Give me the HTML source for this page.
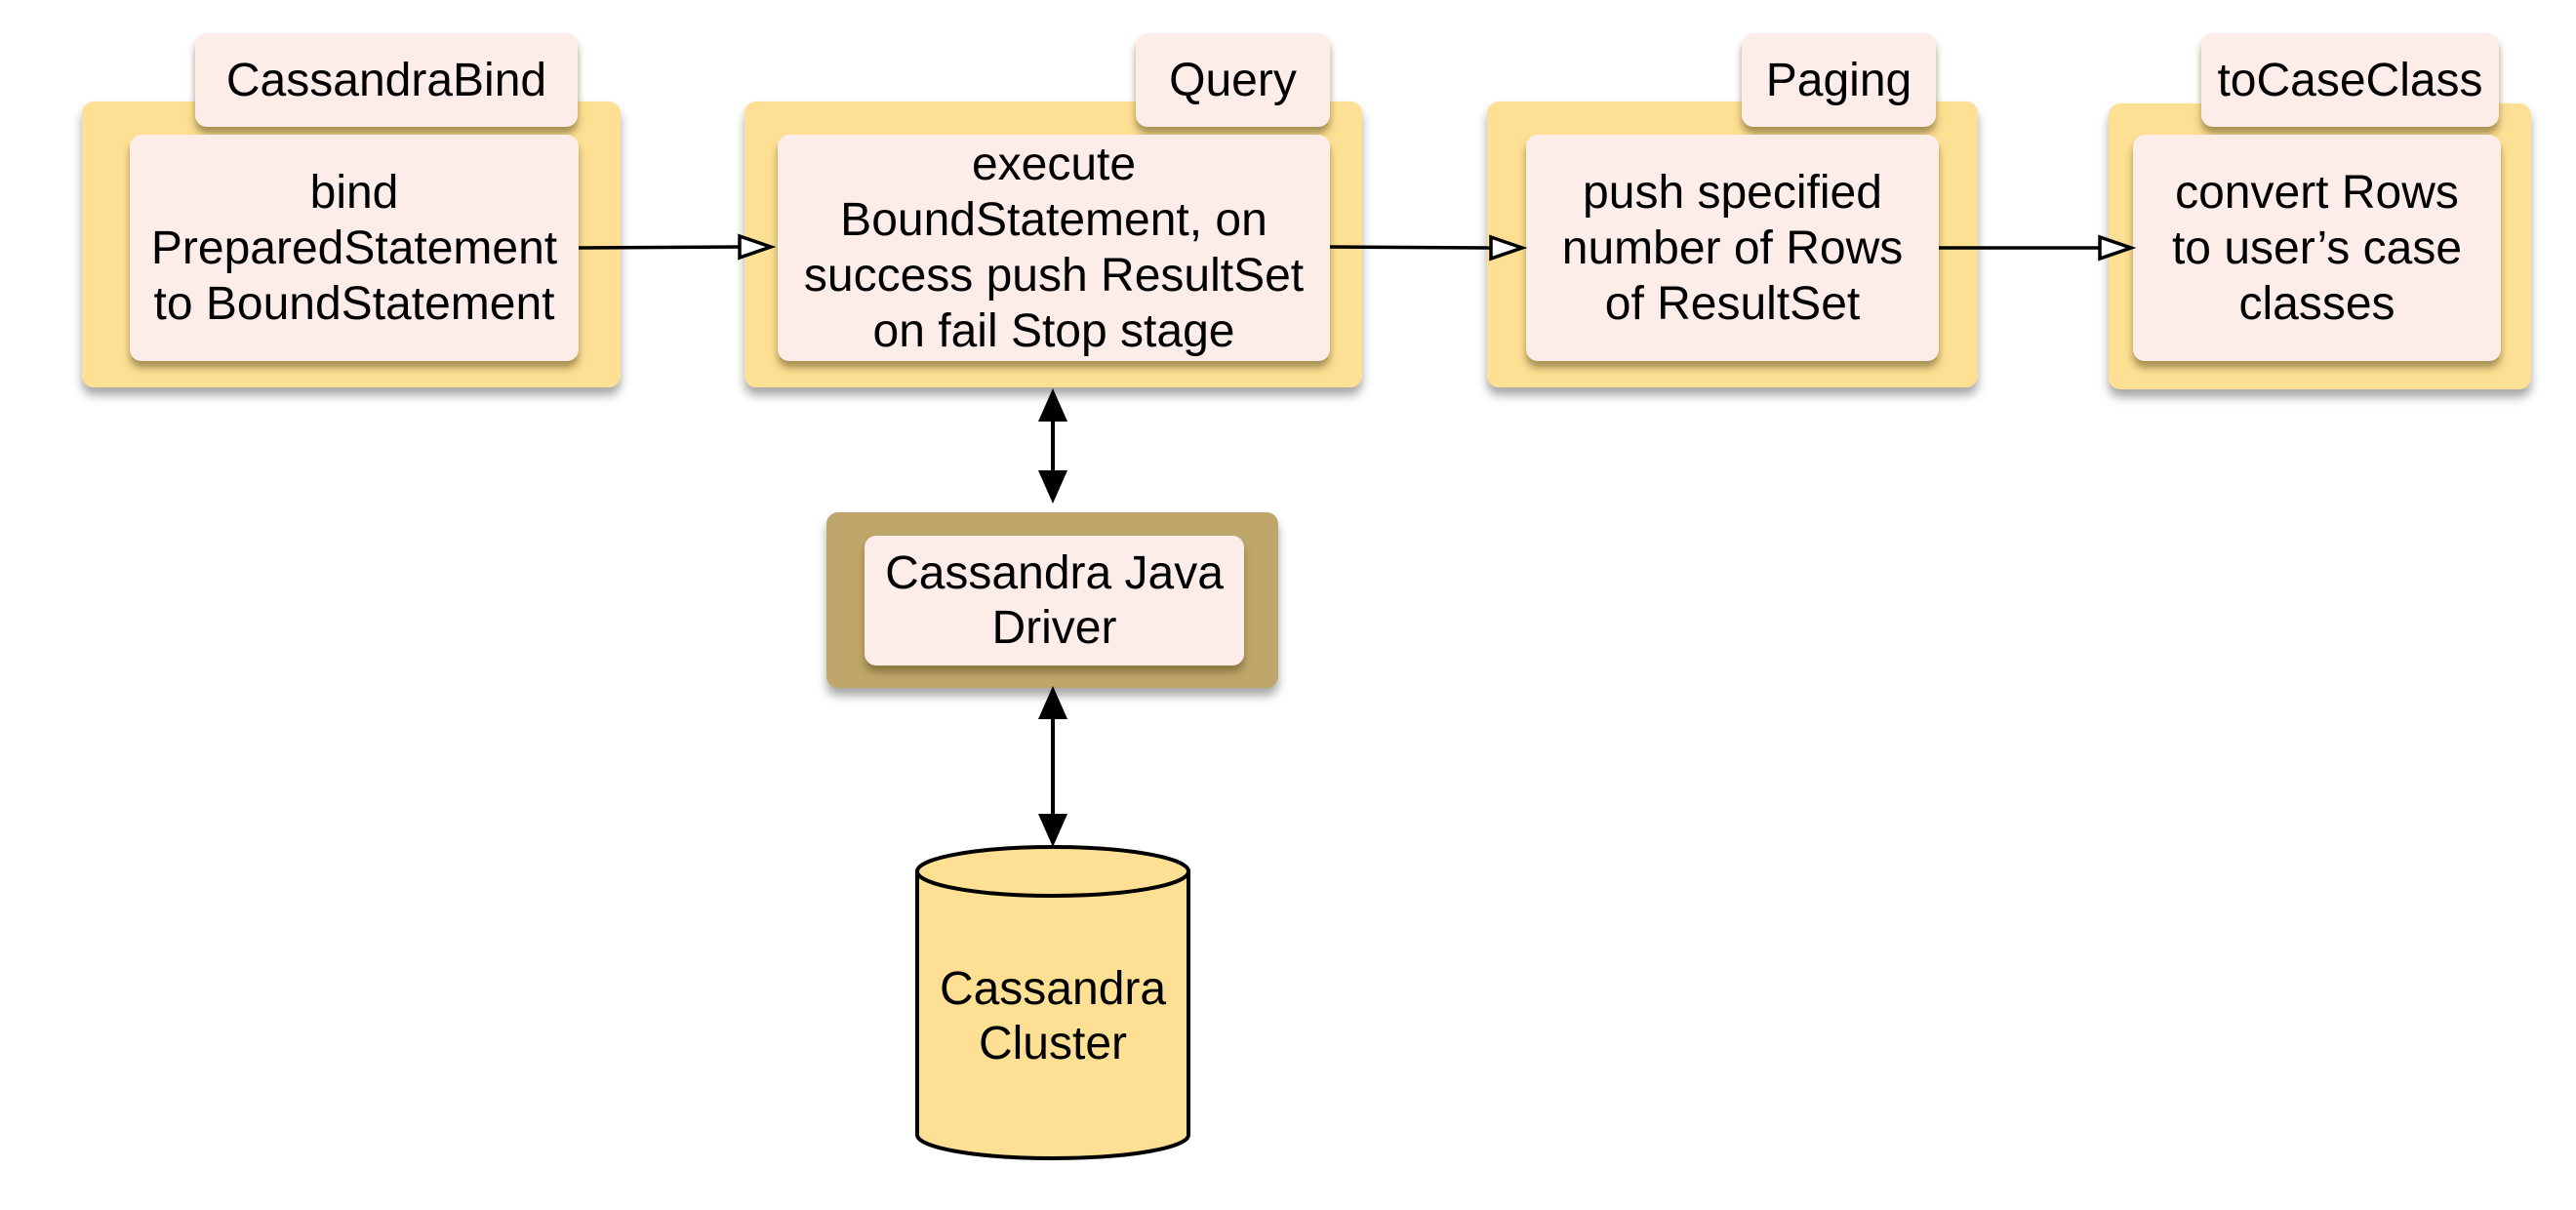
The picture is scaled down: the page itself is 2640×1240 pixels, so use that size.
<!DOCTYPE html>
<html><head><meta charset="utf-8"><style>
body{margin:0;width:2640px;height:1240px;background:#fff;position:relative;overflow:hidden;font-family:"Liberation Sans",sans-serif;}
.b{position:absolute;border-radius:12px;box-sizing:border-box;}
.o{background:#fde093;box-shadow:0 8px 10px rgba(0,0,0,.35);}
.i{background:#fdede8;box-shadow:0 7px 8px rgba(110,90,40,.6);display:flex;align-items:center;justify-content:center;text-align:center;font-size:48px;line-height:57px;color:#000;white-space:nowrap;}
</style></head><body>
<div class="b o" style="left:84px;top:104px;width:552px;height:293px"></div>
<div class="b i" style="left:200px;top:34px;width:392px;height:96px">CassandraBind</div>
<div class="b i" style="left:133px;top:138px;width:460px;height:232px">bind<br>PreparedStatement<br>to BoundStatement</div>

<div class="b o" style="left:763px;top:104px;width:633px;height:293px"></div>
<div class="b i" style="left:1164px;top:34px;width:199px;height:96px">Query</div>
<div class="b i" style="left:797px;top:138px;width:566px;height:232px">execute<br>BoundStatement, on<br>success push ResultSet<br>on fail Stop stage</div>

<div class="b o" style="left:1524px;top:104px;width:503px;height:293px"></div>
<div class="b i" style="left:1785px;top:34px;width:199px;height:96px">Paging</div>
<div class="b i" style="left:1564px;top:138px;width:423px;height:232px">push specified<br>number of Rows<br>of ResultSet</div>

<div class="b o" style="left:2161px;top:106px;width:433px;height:293px"></div>
<div class="b i" style="left:2256px;top:34px;width:305px;height:96px">toCaseClass</div>
<div class="b i" style="left:2186px;top:138px;width:377px;height:232px">convert Rows<br>to user’s case<br>classes</div>

<div class="b" style="left:847px;top:525px;width:463px;height:180px;background:#bfa76c;box-shadow:0 8px 10px rgba(0,0,0,.35)"></div>
<div class="b i" style="left:886px;top:549px;width:389px;height:133px;line-height:56px">Cassandra Java<br>Driver</div>

<svg style="position:absolute;left:0;top:0" width="2640" height="1240">
<g stroke="#000" stroke-width="3.5" fill="#fff">
<line x1="593" y1="254" x2="758" y2="253"/><polygon points="758,242 790,253 758,264"/>
<line x1="1363" y1="253" x2="1528" y2="254"/><polygon points="1528,243 1560,254 1528,265"/>
<line x1="1987" y1="254" x2="2152" y2="254"/><polygon points="2152,243 2184,254 2152,265"/>
</g>
<g stroke="#000" stroke-width="4" fill="#000">
<line x1="1079" y1="425" x2="1079" y2="490"/>
<polygon points="1064,432 1079,398 1094,432" stroke="none"/>
<polygon points="1064,482 1079,516 1094,482" stroke="none"/>
<line x1="1079" y1="730" x2="1079" y2="840"/>
<polygon points="1064,737 1079,703 1094,737" stroke="none"/>
<polygon points="1064,834 1079,868 1094,834" stroke="none"/>
</g>
<g stroke="#000" stroke-width="4" fill="#fde093">
<path d="M940,893 L940,1163 A139,24 0 0 0 1218,1163 L1218,893 Z"/>
<ellipse cx="1079" cy="893" rx="139" ry="25"/>
</g>
<text x="1079" y="1029" font-size="48" text-anchor="middle" font-family="Liberation Sans, sans-serif">Cassandra</text>
<text x="1079" y="1085" font-size="48" text-anchor="middle" font-family="Liberation Sans, sans-serif">Cluster</text>
</svg>
</body></html>
